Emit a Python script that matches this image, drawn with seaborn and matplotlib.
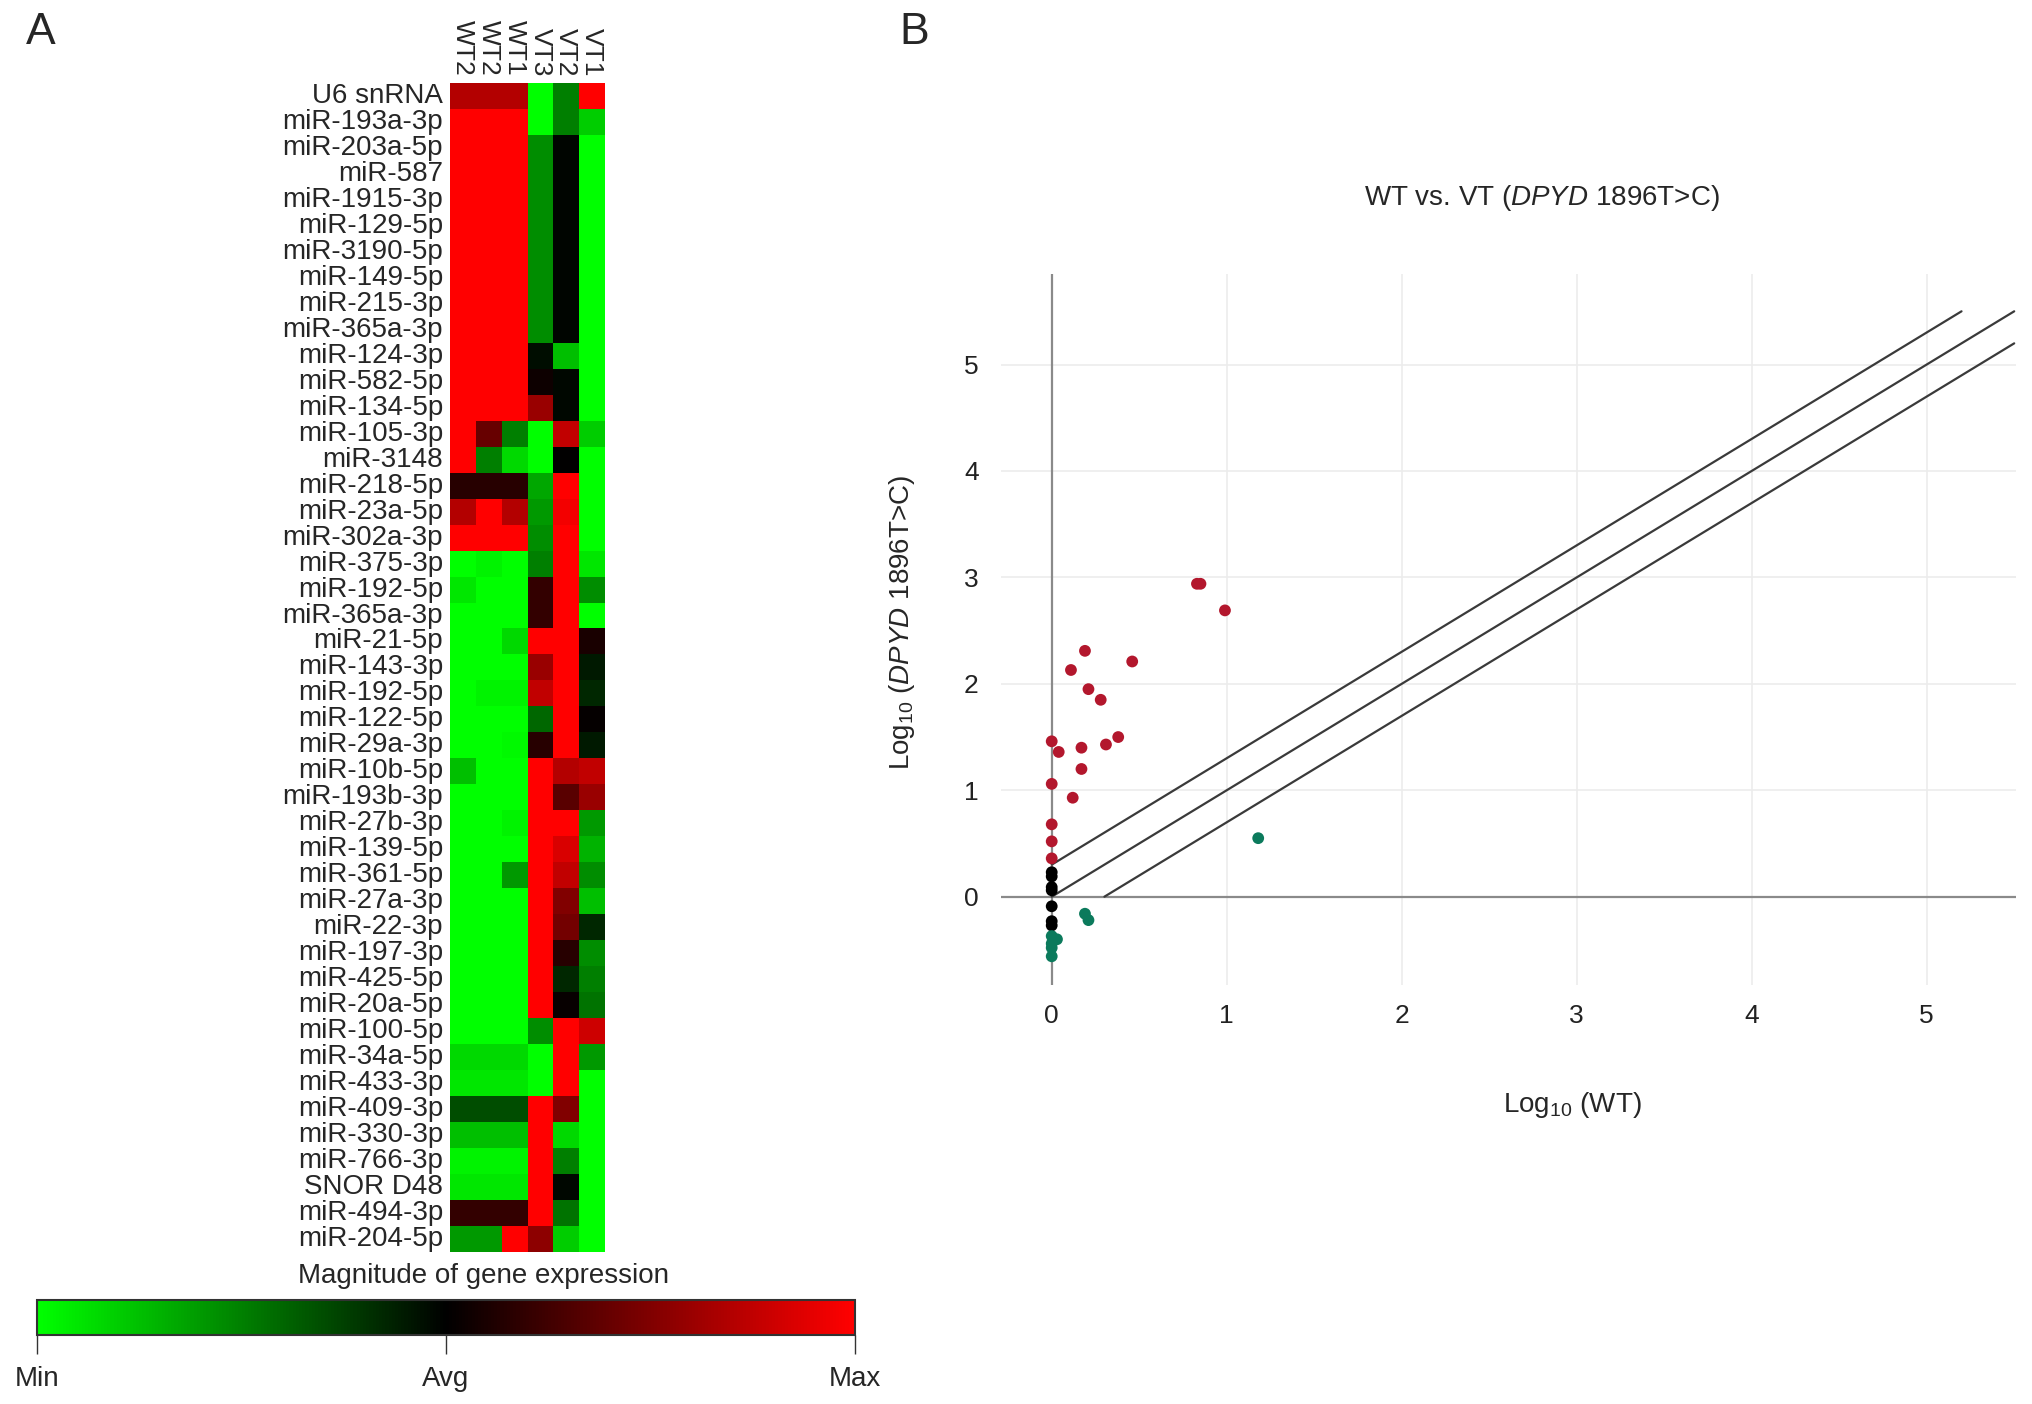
import numpy as np
import pandas as pd
import matplotlib
matplotlib.use("Agg")
import matplotlib.pyplot as plt
from matplotlib.colors import LinearSegmentedColormap
import seaborn as sns

# Panel A - heatmap values (-1 = Min, 0 = Avg, 1 = Max)
genes = ["U6 snRNA", "miR-193a-3p", "miR-203a-5p", "miR-587", "miR-1915-3p",
         "miR-129-5p", "miR-3190-5p", "miR-149-5p", "miR-215-3p", "miR-365a-3p",
         "miR-124-3p", "miR-582-5p", "miR-134-5p", "miR-105-3p", "miR-3148",
         "miR-218-5p", "miR-23a-5p", "miR-302a-3p", "miR-375-3p", "miR-192-5p",
         "miR-365a-3p", "miR-21-5p", "miR-143-3p", "miR-192-5p", "miR-122-5p",
         "miR-29a-3p", "miR-10b-5p", "miR-193b-3p", "miR-27b-3p", "miR-139-5p",
         "miR-361-5p", "miR-27a-3p", "miR-22-3p", "miR-197-3p", "miR-425-5p",
         "miR-20a-5p", "miR-100-5p", "miR-34a-5p", "miR-433-3p", "miR-409-3p",
         "miR-330-3p", "miR-766-3p", "SNOR D48", "miR-494-3p", "miR-204-5p"]
samples = ["WT2", "WT2", "WT1", "VT3", "VT2", "VT1"]

wt2_a = [0.7, 1, 1, 1, 1, 1, 1, 1, 1, 1, 1, 1, 1, 1, 1,
         0.15, 0.7, 1, -1, -0.9, -1, -1, -1, -1, -1, -1, -0.75, -1, -1, -1,
         -1, -1, -1, -1, -1, -1, -1, -0.85, -0.9, -0.3, -0.75, -0.95, -0.9, 0.2, -0.6]
wt2_b = [0.7, 1, 1, 1, 1, 1, 1, 1, 1, 1, 1, 1, 1, 0.4, -0.5,
         0.15, 1, 1, -0.95, -1, -1, -1, -1, -0.95, -1, -1, -1, -1, -1, -1,
         -1, -1, -1, -1, -1, -1, -1, -0.85, -0.9, -0.3, -0.75, -0.95, -0.9, 0.2, -0.6]
wt1 = [0.7, 1, 1, 1, 1, 1, 1, 1, 1, 1, 1, 1, 1, -0.5, -0.85,
       0.15, 0.7, 1, -1, -1, -1, -0.85, -1, -0.95, -1, -0.97, -1, -1, -0.95, -1,
       -0.6, -1, -1, -1, -1, -1, -1, -0.85, -0.9, -0.3, -0.75, -0.95, -0.9, 0.2, 1]
vt3 = [-1, -1, -0.55, -0.55, -0.55, -0.55, -0.55, -0.55, -0.55, -0.55, -0.05, 0.05, 0.6, -1, -1,
       -0.65, -0.6, -0.55, -0.5, 0.2, 0.2, 1, 0.6, 0.75, -0.4, 0.15, 1, 1, 1, 1,
       1, 1, 1, 1, 1, 1, -0.55, -1, -1, 1, 1, 1, 1, 1, 0.55]
vt2 = [-0.5, -0.5, -0.02, -0.02, -0.02, -0.02, -0.02, -0.02, -0.02, -0.02, -0.75, -0.03, -0.03, 0.75, 0.0,
       1, 0.95, 1, 1, 1, 1, 1, 1, 1, 1, 1, 0.7, 0.35, 1, 0.85,
       0.75, 0.5, 0.45, 0.15, -0.15, 0.03, 1, 1, 1, 0.5, -0.85, -0.5, -0.03, -0.45, -0.8]
vt1 = [1, -0.8, -1, -1, -1, -1, -1, -1, -1, -1, -1, -1, -1, -0.8, -1,
       -1, -1, -1, -0.9, -0.55, -1, 0.1, -0.1, -0.15, 0.02, -0.1, 0.75, 0.6, -0.6, -0.7,
       -0.55, -0.75, -0.15, -0.55, -0.5, -0.45, 0.8, -0.6, -1, -1, -1, -1, -1, -1, -1]

# Panel B - scatter (log10 WT vs log10 VT)
wt_log = [0.83, 0.85, 0.99, 0.19, 0.11, 0.46, 0.21, 0.28, 0.0, 0.04, 0.17, 0.31, 0.38,
          0.17, 0.0, 0.12, 0.0, 0.0, 0.0,
          0.0, 0.0, 0.0, 0.0, 0.0, 0.0, 0.0,
          1.18, 0.19, 0.21, 0.0, 0.03, 0.0, 0.0, 0.0]
vt_log = [2.94, 2.94, 2.69, 2.31, 2.13, 2.21, 1.95, 1.85, 1.46, 1.36, 1.40, 1.43, 1.50,
          1.20, 1.06, 0.93, 0.68, 0.52, 0.36,
          0.23, 0.19, 0.09, 0.06, -0.09, -0.23, -0.27,
          0.55, -0.16, -0.22, -0.37, -0.40, -0.44, -0.48, -0.56]
regulation = ["up"] * 19 + ["none"] * 7 + ["down"] * 8
fold_offsets = [np.log10(2), 0.0, -np.log10(2)]

sns.set_style("white")
plt.rcParams["font.family"] = ["Liberation Sans", "DejaVu Sans"]
plt.rcParams["mathtext.fontset"] = "custom"
plt.rcParams["mathtext.rm"] = "Liberation Sans"
plt.rcParams["mathtext.it"] = "Liberation Sans:italic"

fig = plt.figure(figsize=(20.32, 14.04), dpi=100)

# ---- Panel A
heat = pd.DataFrame({"c0": wt2_a, "c1": wt2_b, "c2": wt1, "c3": vt3, "c4": vt2, "c5": vt1})
cmap = LinearSegmentedColormap.from_list("gbr", ["#00ff00", "#000000", "#ff0000"])

axh = fig.add_axes([0.2215, 0.1083, 0.0763, 0.8326])
cax = fig.add_axes([0.0182, 0.0491, 0.4026, 0.0249])
sns.heatmap(heat, cmap=cmap, vmin=-1, vmax=1, ax=axh, cbar_ax=cax,
            cbar_kws={"orientation": "horizontal"},
            xticklabels=samples, yticklabels=genes)
axh.xaxis.tick_top()
axh.set_xticklabels(samples, rotation=270, fontsize=19, va="bottom", ha="center")
axh.set_yticklabels(genes, rotation=0, fontsize=20)
axh.tick_params(length=0, pad=5)
axh.set_xlabel("")
axh.set_ylabel("")

cbar = axh.collections[0].colorbar
cbar.set_ticks([-1, 0, 1])
cbar.set_ticklabels(["Min", "Avg", "Max"])
cax.tick_params(length=14, width=1, labelsize=20, pad=8, color="#333333")
cbar.outline.set_edgecolor("#333333")
cbar.outline.set_linewidth(1.5)
fig.text(0.238, 0.091, "Magnitude of gene expression", fontsize=20, ha="center", va="center")

fig.text(0.02, 0.977, "A", fontsize=32, ha="center", va="center")
fig.text(0.45, 0.977, "B", fontsize=32, ha="center", va="center")

# ---- Panel B
scat = pd.DataFrame({"wt": wt_log, "vt": vt_log, "group": regulation})
axb = fig.add_axes([0.4926, 0.2984, 0.4995, 0.5064])
axb.set_xlim(-0.29, 5.51)
axb.set_ylim(-0.83, 5.85)
axb.set_xticks(range(6))
axb.set_yticks(range(6))
axb.grid(True, color="#ececec", linewidth=1.2)
for s in axb.spines.values():
    s.set_visible(False)
axb.axhline(0, color="#8a8a8a", lw=1.6, zorder=1)
axb.axvline(0, color="#8a8a8a", lw=1.6, zorder=1)

top = 5.5
for off in fold_offsets:
    x0 = max(0.0, -off)
    x1 = min(top, top - off)
    axb.plot([x0, x1], [x0 + off, x1 + off], color="#3a3a3a", lw=1.6, zorder=2)

sns.scatterplot(data=scat, x="wt", y="vt", hue="group",
                palette={"up": "#b3172d", "none": "#000000", "down": "#0b7a5c"},
                s=72, linewidth=0, legend=False, ax=axb, zorder=3)
axb.set_xlabel("")
axb.set_ylabel("")
axb.tick_params(length=0, labelsize=19, labelcolor="#222222")
axb.tick_params(axis="x", pad=14)
axb.tick_params(axis="y", pad=16)

fig.text(0.759, 0.859, r"WT vs. VT ($\mathit{DPYD}$ 1896T>C)", fontsize=20, ha="center", va="center")
fig.text(0.7736, 0.213, r"Log$_{10}$ (WT)", fontsize=20, ha="center", va="center")
fig.text(0.444, 0.557, r"Log$_{10}$ ($\mathit{DPYD}$ 1896T>C)", fontsize=20,
         ha="center", va="center", rotation=90)

fig.savefig("out.png", dpi=100)
